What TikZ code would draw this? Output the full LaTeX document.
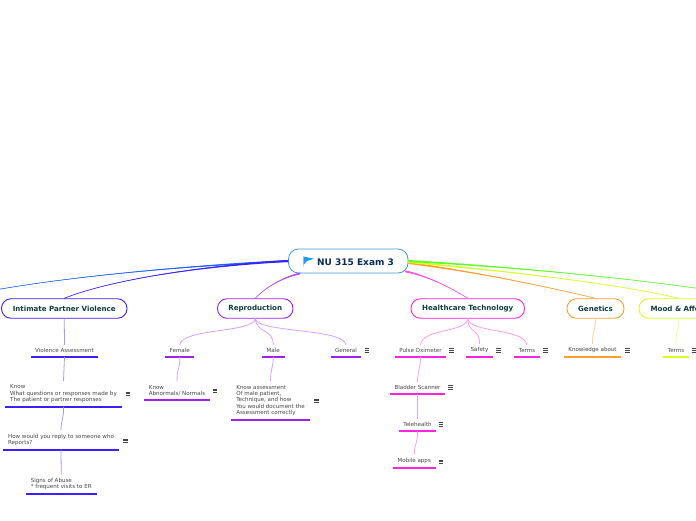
\documentclass[tikz,border=0pt]{standalone}
\usepackage{fontspec}
\setmainfont{DejaVu Sans}
\definecolor{ipvc}{HTML}{3B1FFF}\definecolor{ipvl}{HTML}{A898FF}
\definecolor{repc}{HTML}{A020F0}\definecolor{repl}{HTML}{D8A0FF}
\definecolor{hcc}{HTML}{FF22E0}\definecolor{hcl}{HTML}{FF9CF0}
\definecolor{genc}{HTML}{FF9F2E}\definecolor{genl}{HTML}{FFD098}
\definecolor{modc}{HTML}{D4FF20}\definecolor{modl}{HTML}{EFFF90}
\definecolor{grnc}{HTML}{5CFF2A}\definecolor{bluc}{HTML}{2060FF}
\definecolor{rootc}{HTML}{3D9AD6}\definecolor{navy}{HTML}{0B2A5B}
\definecolor{topt}{HTML}{0F3D3D}\definecolor{leaft}{HTML}{444444}
\definecolor{flagc}{HTML}{1E9BF0}
\tikzset{
 topicbox/.style={draw=#1,line width=0.9pt,rounded corners=9.5pt,fill=white,inner sep=0pt,minimum height=19.5pt,
   font=\fontsize{7.1}{8}\bfseries\selectfont,text=topt},
 leafbox/.style={inner xsep=0pt,inner ysep=3.8pt,align=left,font=\fontsize{5.55}{6.45}\selectfont,text=leaft,anchor=south},
 lnk/.style={line width=0.6pt,line cap=round},
 sub/.style={line width=0.8pt,line cap=round},
}
\newcommand{\leaf}[6]{%
 \node[leafbox,minimum width=#4pt] (#1) at (#2,#3) {#6};
 \draw[#5,line width=1.5pt] (#1.south west) -- (#1.south east);}
\newcommand{\menuicon}[2]{%
 \draw[leaft,line width=0.4pt] (#1-2.4,#2-1.7) -- (#1+2.4,#2-1.7) (#1-2.4,#2) -- (#1+2.4,#2) (#1-2.4,#2+1.7) -- (#1+2.4,#2+1.7);}
% main connector: a thin curve between two named points, widening towards the centre node
\newcommand{\conn}[5]{%
 \draw[#1,lnk] (#2) .. controls (#3) and (#4) .. (#5);
 \fill[#1] ([yshift=1pt]#2) .. controls ([yshift=0.6pt]#3) and (#4) .. (#5) .. controls (#4) and ([yshift=-0.6pt]#3) .. ([yshift=-1pt]#2) -- cycle;}
\begin{document}
\begin{tikzpicture}[x=1pt,y=-1pt]
\useasboundingbox (0,0) rectangle (696,520);
\clip (0,0) rectangle (696,520);
\coordinate (offl) at (-5,290);
\coordinate (offr) at (702,289);
% topics
\node[draw=rootc,line width=0.8pt,rounded corners=10pt,fill=white,minimum width=119.5pt,minimum height=24pt,inner sep=0pt] (root) at (348.25,261) {};
\node[font=\fontsize{9}{10}\bfseries\selectfont,text=navy,inner sep=0pt] (roottext) at (355.5,262) {NU 315 Exam 3};
\fill[black!15] (302.5,256) rectangle (303.7,267);
\fill[flagc] (303.5,256.5) -- (314,258.7) -- (307,261) -- (303.5,265) -- cycle;
\coordinate (rootsw) at ([xshift=12pt]root.south west);
\coordinate (rootse) at ([xshift=-3pt,yshift=2pt]root.south east);
\coordinate (rooteo) at ([yshift=-2pt]root.east);
\coordinate (rootey) at ([yshift=-1pt]root.east);
\node[topicbox=ipvc,minimum width=125.5pt] (ipv) at (64.25,308.5) {Intimate Partner Violence};
\node[topicbox=repc,minimum width=75.5pt] (rep) at (255.25,308.5) {Reproduction};
\node[topicbox=hcc,minimum width=113.5pt] (hc) at (467.75,308.5) {Healthcare Technology};
\node[topicbox=genc,minimum width=57pt] (gen) at (595.5,308.5) {Genetics};
\node[topicbox=modc,minimum width=80pt] (mood) at (679,308.5) {Mood \& Affect};
% leaves
\leaf{va}{64.5}{357}{67}{ipvc}{Violence Assessment}
\leaf{know}{63.5}{407}{117}{ipvc}{Know\\What questions or responses made by\\The patient or partner responses}
\leaf{reply}{61}{450}{116}{ipvc}{How would you reply to someone who\\Reports?}
\leaf{signs}{61.25}{494}{70.5}{ipvc}{Signs of Abuse\\* frequent visits to ER}
\leaf{female}{179.75}{357}{28.5}{repc}{Female}
\leaf{abn}{177}{400}{66}{repc}{Know\\Abnormals/ Normals}
\leaf{male}{273.25}{357}{22.5}{repc}{Male}
\leaf{assess}{270.5}{420}{79}{repc}{Know assessment\\Of male patient,\\Technique, and how\\You would document the\\Assessment correctly}
\leaf{general}{346}{357}{30}{repc}{General}
\leaf{pulse}{420.5}{357}{51}{hcc}{Pulse Oximeter}
\leaf{safety}{479.5}{357}{27}{hcc}{Safety}
\leaf{terms}{527}{357}{26}{hcc}{Terms}
\leaf{bladder}{417.5}{394}{55}{hcc}{Bladder Scanner}
\leaf{tele}{417.5}{431}{37}{hcc}{Telehealth}
\leaf{mobile}{414.25}{468}{42.5}{hcc}{Mobile apps}
\leaf{knowl}{592.5}{357}{57}{genc}{Knowledge about}
\leaf{mterms}{676}{357}{26}{modc}{Terms}
% menus
\menuicon{128}{393.5}\menuicon{125.5}{440.5}\menuicon{215}{390.5}\menuicon{316.5}{400.5}
\menuicon{367}{350}\menuicon{451.5}{350}\menuicon{498.5}{350}\menuicon{545.5}{350}
\menuicon{450.5}{387}\menuicon{441}{424}\menuicon{441}{461.5}\menuicon{627.5}{350}\menuicon{694}{350}
% main connectors
\conn{bluc}{root.west}{200,265}{80,275}{offl}
\conn{ipvc}{root.west}{200,266}{110,280}{ipv.north}
\conn{repc!80!white}{rootsw}{285,277}{268,285}{rep.north}
\conn{hcc!80!white}{rootse}{425,275}{450,287}{hc.north}
\conn{genc}{rooteo}{470,271}{540,285}{gen.north}
\conn{modc}{rootey}{470,268}{600,280}{mood.north}
\conn{grnc}{root.east}{500,266}{620,277}{offr}
% sub connectors
\draw[ipvl,sub] (ipv.south) -- (va.north);
\draw[ipvl,sub] (va.south) -- (know.north);
\draw[ipvl,sub] (know.south) .. controls (64,420) and (61,418) .. (reply.north);
\draw[ipvl,sub] (reply.south) -- (signs.north);
\draw[repl,sub] (rep.south) .. controls (253,333) and (183,328) .. (female.north);
\draw[repl,sub] (rep.south) .. controls (257,334) and (273,328) .. (male.north);
\draw[repl,sub] (rep.south) .. controls (258,333) and (343,328) .. (general.north);
\draw[repl,sub] (female.south) .. controls (180,370) and (177,368) .. (abn.north);
\draw[repl,sub] (male.south) .. controls (273,370) and (270.5,368) .. (assess.north);
\draw[hcl,sub] (hc.south) .. controls (466,333) and (423,328) .. (pulse.north);
\draw[hcl,sub] (hc.south) .. controls (468,334) and (480,328) .. (safety.north);
\draw[hcl,sub] (hc.south) .. controls (470,333) and (524,328) .. (terms.north);
\draw[hcl,sub] (pulse.south) .. controls (420.5,370) and (418,368) .. (bladder.north);
\draw[hcl,sub] (bladder.south) -- (tele.north);
\draw[hcl,sub] (tele.south) .. controls (418,444) and (414.5,442) .. (mobile.north);
\draw[genl,sub] (gen.south) .. controls (595,333) and (592.5,331) .. (knowl.north);
\draw[modl,sub] (mood.south) .. controls (678,333) and (676,331) .. (mterms.north);
\end{tikzpicture}
\end{document}
